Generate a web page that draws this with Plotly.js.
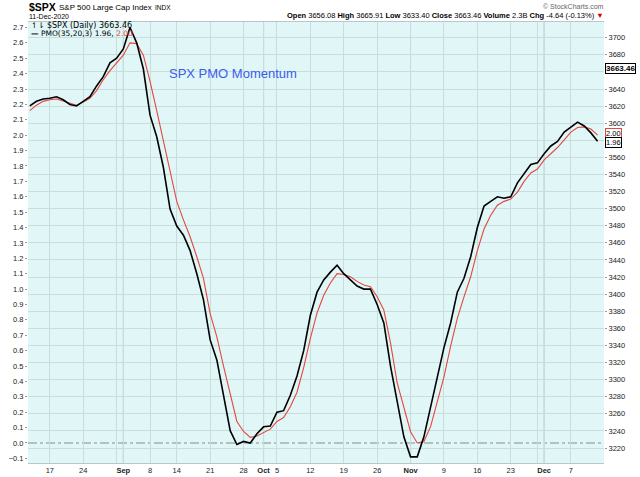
<!DOCTYPE html>
<html>
<head>
<meta charset="utf-8">
<script src="https://cdn.plot.ly/plotly-3.0.1.min.js"></script>
<style>
  html, body { margin: 0; padding: 0; background: #ffffff; }
  #chart { width: 640px; height: 477px; }
</style>
</head>
<body>
<div id="chart"></div>
<script>
// ---- data ----
const dates = [
  '2020-08-12','2020-08-13','2020-08-14',
  '2020-08-17','2020-08-18','2020-08-19','2020-08-20','2020-08-21',
  '2020-08-24','2020-08-25','2020-08-26','2020-08-27','2020-08-28',
  '2020-08-31','2020-09-01','2020-09-02','2020-09-03','2020-09-04',
  '2020-09-08','2020-09-09','2020-09-10','2020-09-11',
  '2020-09-14','2020-09-15','2020-09-16','2020-09-17','2020-09-18',
  '2020-09-21','2020-09-22','2020-09-23','2020-09-24','2020-09-25',
  '2020-09-28','2020-09-29','2020-09-30','2020-10-01','2020-10-02',
  '2020-10-05','2020-10-06','2020-10-07','2020-10-08','2020-10-09',
  '2020-10-12','2020-10-13','2020-10-14','2020-10-15','2020-10-16',
  '2020-10-19','2020-10-20','2020-10-21','2020-10-22','2020-10-23',
  '2020-10-26','2020-10-27','2020-10-28','2020-10-29','2020-10-30',
  '2020-11-02','2020-11-03','2020-11-04','2020-11-05','2020-11-06',
  '2020-11-09','2020-11-10','2020-11-11','2020-11-12','2020-11-13',
  '2020-11-16','2020-11-17','2020-11-18','2020-11-19','2020-11-20',
  '2020-11-23','2020-11-24','2020-11-25','2020-11-27',
  '2020-11-30','2020-12-01','2020-12-02','2020-12-03','2020-12-04',
  '2020-12-07','2020-12-08','2020-12-09','2020-12-10','2020-12-11'
];

const pmo = [
  2.19, 2.22, 2.235, 2.24, 2.25, 2.23, 2.20, 2.19, 2.22, 2.25,
  2.32, 2.38, 2.47, 2.50, 2.56, 2.70, 2.60, 2.43, 2.13, 1.99,
  1.79, 1.52, 1.41, 1.35, 1.25, 1.10, 0.93, 0.67, 0.54, 0.30,
  0.08, -0.01, 0.01, 0.00, 0.06, 0.105, 0.11, 0.20, 0.21, 0.31,
  0.435, 0.60, 0.83, 0.98, 1.06, 1.11, 1.155, 1.10, 1.06, 1.02,
  1.00, 1.00, 0.90, 0.78, 0.50, 0.28, 0.04, -0.09, -0.09, 0.04,
  0.24, 0.43, 0.62, 0.78, 0.98, 1.07, 1.21, 1.40, 1.54, 1.57,
  1.60, 1.59, 1.60, 1.69, 1.75, 1.81, 1.82, 1.88, 1.93, 1.96,
  2.02, 2.05, 2.085, 2.06, 2.015, 1.96
];

const signal = [
  2.16, 2.195, 2.22, 2.23, 2.235, 2.22, 2.205, 2.195, 2.215, 2.24,
  2.29, 2.36, 2.42, 2.47, 2.52, 2.60, 2.595, 2.52, 2.35, 2.16,
  1.97, 1.77, 1.57, 1.45, 1.34, 1.21, 1.07, 0.84, 0.69, 0.50,
  0.32, 0.14, 0.075, 0.037, 0.045, 0.07, 0.09, 0.14, 0.165, 0.236,
  0.33, 0.49, 0.68, 0.845, 0.96, 1.04, 1.10, 1.095, 1.08, 1.05,
  1.026, 1.015, 0.95, 0.864, 0.65, 0.39, 0.236, 0.073, 0.00, 0.01,
  0.106, 0.26, 0.43, 0.63, 0.81, 0.95, 1.08, 1.25, 1.39, 1.48,
  1.545, 1.57, 1.585, 1.63, 1.70, 1.755, 1.78, 1.84, 1.88, 1.92,
  1.97, 2.02, 2.05, 2.054, 2.04, 2.00
];

const tickDates = [
  '2020-08-17','2020-08-24','2020-08-31','2020-09-01','2020-09-08','2020-09-14',
  '2020-09-21','2020-09-28','2020-10-01','2020-10-05','2020-10-12','2020-10-19',
  '2020-10-26','2020-11-02','2020-11-09','2020-11-16','2020-11-23','2020-11-30',
  '2020-12-01','2020-12-07'
];
const tickLabels = [
  '17','24','','<b>Sep</b>','8','14',
  '21','28','<b>Oct</b>','5','12','19',
  '26','<b>Nov</b>','9','16','23','',
  '<b>Dec</b>','7'
];
const monthStarts = ['2020-09-01','2020-10-01','2020-11-02','2020-12-01'];

// right (price) axis ticks; labels hidden where the value boxes cover them
const priceTicks = [3220,3240,3260,3280,3300,3320,3340,3360,3380,3400,3420,3440,3460,
                    3480,3500,3520,3540,3560,3580,3600,3620,3640,3660,3680,3700];
const priceTickLabels = ['3220','3240','3260','3280','3300','3320','3340','3360','3380','3400','3420','3440','3460',
                         '3480','3500','3520','3540','3560','','3600','3620','3640','','3680','3700'];

const closePrice = 3663.46;
const lastPmo = 1.96;
const lastSignal = 2.00;
const headerStats = '<b>Open</b> 3656.08 <b>High</b> 3665.91 <b>Low</b> 3633.40 <b>Close</b> 3663.46 <b>Volume</b> 2.3B <b>Chg</b> -4.64 (-0.13%) <span style="color:#cc0000">▼</span>';

// ---- layout helpers (pixel -> paper) ----
const L = 28, R = 36, T = 22, B = 14, W = 640, H = 477;
const pw = W - L - R, ph = H - T - B;
const px = x => (x - L) / pw;
const py = y => (H - B - y) / ph;

const FONT = 'Liberation Sans, Arial, sans-serif';

const traces = [
  {
    x: dates, y: signal, type: 'scatter', mode: 'lines',
    line: { color: '#e5473d', width: 1.1 }, hoverinfo: 'skip', yaxis: 'y'
  },
  {
    x: dates, y: pmo, type: 'scatter', mode: 'lines',
    line: { color: '#000000', width: 1.6 }, hoverinfo: 'skip', yaxis: 'y'
  },
  {
    x: [dates[dates.length - 1]], y: [closePrice], type: 'scatter', mode: 'markers',
    marker: { opacity: 0, size: 1 }, hoverinfo: 'skip', yaxis: 'y2'
  }
];

const shapes = monthStarts.map(d => ({
  type: 'line', xref: 'x', yref: 'paper', x0: d, x1: d, y0: 0, y1: 1,
  line: { color: '#a9c2c2', width: 1 }, layer: 'below'
}));
shapes.push({
  type: 'line', xref: 'paper', yref: 'y', x0: 0, x1: 1, y0: 0, y1: 0,
  line: { color: '#8a8a8a', width: 1, dash: 'dashdot' }, layer: 'below'
});

const annotations = [
  { xref: 'paper', yref: 'paper', x: px(27), y: py(7), xanchor: 'left', yanchor: 'middle',
    text: '<b>$SPX</b>', showarrow: false, font: { family: FONT, size: 10.5, color: '#000' } },
  { xref: 'paper', yref: 'paper', x: px(57), y: py(7.5), xanchor: 'left', yanchor: 'middle',
    text: 'S&P 500 Large Cap Index', showarrow: false, font: { family: FONT, size: 8, color: '#000' } },
  { xref: 'paper', yref: 'paper', x: px(153), y: py(7.5), xanchor: 'left', yanchor: 'middle',
    text: 'INDX', showarrow: false, font: { family: FONT, size: 6.5, color: '#000' } },
  { xref: 'paper', yref: 'paper', x: px(27), y: py(17), xanchor: 'left', yanchor: 'middle',
    text: '11-Dec-2020', showarrow: false, font: { family: FONT, size: 7, color: '#000' } },
  { xref: 'paper', yref: 'paper', x: px(606), y: py(16), xanchor: 'right', yanchor: 'middle',
    text: headerStats, showarrow: false, font: { family: FONT, size: 7.5, color: '#000' } },
  { xref: 'paper', yref: 'paper', x: px(606), y: py(6), xanchor: 'right', yanchor: 'middle',
    text: '© StockCharts.com', showarrow: false, font: { family: FONT, size: 7, color: '#666' } },
  { xref: 'paper', yref: 'paper', x: px(29), y: py(25.5), xanchor: 'left', yanchor: 'middle',
    text: '↿⇂ $SPX (Daily) 3663.46', showarrow: false,
    font: { family: 'DejaVu Sans, sans-serif', size: 8, color: '#000' } },
  { xref: 'paper', yref: 'paper', x: px(29), y: py(33), xanchor: 'left', yanchor: 'middle',
    text: '<b>—</b> PMO(35,20,3) ' + lastPmo.toFixed(2) + ', <span style="color:#e5473d">' + lastSignal.toFixed(2) + '</span>',
    showarrow: false, font: { family: 'DejaVu Sans, sans-serif', size: 7.5, color: '#000' } },
  { xref: 'paper', yref: 'paper', x: px(167), y: py(74), xanchor: 'left', yanchor: 'middle',
    text: 'SPX PMO Momentum', showarrow: false, font: { family: FONT, size: 13, color: '#3d5cee' } },
  { xref: 'paper', yref: 'y2', x: px(605), y: closePrice, xanchor: 'left', yanchor: 'middle',
    text: '<b>' + closePrice.toFixed(2) + '</b>', showarrow: false, bgcolor: '#ffffff',
    bordercolor: '#000', borderwidth: 1, borderpad: 0, font: { family: FONT, size: 8, color: '#000' } },
  { xref: 'paper', yref: 'y', x: px(605), y: lastSignal, xanchor: 'left', yanchor: 'middle', yshift: 1.5,
    text: lastSignal.toFixed(2), showarrow: false, bgcolor: '#ffffff',
    bordercolor: '#e5473d', borderwidth: 1, borderpad: 0, font: { family: FONT, size: 7.5, color: '#000' } },
  { xref: 'paper', yref: 'y', x: px(605), y: lastPmo, xanchor: 'left', yanchor: 'middle', yshift: -1.5,
    text: lastPmo.toFixed(2), showarrow: false, bgcolor: '#ffffff',
    bordercolor: '#000', borderwidth: 1, borderpad: 0, font: { family: FONT, size: 7.5, color: '#000' } }
];

const layout = {
  width: W, height: H,
  margin: { l: L, r: R, t: T, b: B, pad: 0 },
  paper_bgcolor: '#ffffff',
  plot_bgcolor: '#e0f6f7',
  showlegend: false,
  font: { family: FONT, size: 8, color: '#222' },
  xaxis: {
    type: 'category',
    range: [-0.27, 85.96],
    tickmode: 'array', tickvals: tickDates, ticktext: tickLabels,
    showgrid: true, gridcolor: '#c9dddd', gridwidth: 1,
    ticks: '', tickfont: { family: FONT, size: 7.5, color: '#222' },
    showline: true, linecolor: '#b8c8c8', mirror: true,
    zeroline: false, fixedrange: true
  },
  yaxis: {
    range: [-0.130, 2.7355],
    tickmode: 'linear', tick0: 0, dtick: 0.1, tickformat: '.1f',
    showgrid: false, zeroline: false,
    ticks: 'outside', ticklen: 2, tickcolor: '#999',
    tickfont: { family: FONT, size: 7.5, color: '#222' },
    showline: false
  },
  yaxis2: {
    overlaying: 'y', side: 'right',
    range: [3202.45, 3718.4],
    tickmode: 'array', tickvals: priceTicks, ticktext: priceTickLabels,
    showgrid: true, gridcolor: '#c9dddd', gridwidth: 1,
    zeroline: false,
    ticks: 'outside', ticklen: 2, tickcolor: '#999',
    tickfont: { family: FONT, size: 7.5, color: '#222' },
    showline: false
  },
  shapes: shapes,
  annotations: annotations
};

Plotly.newPlot('chart', traces, layout, { displayModeBar: false, staticPlot: true });
</script>
</body>
</html>
